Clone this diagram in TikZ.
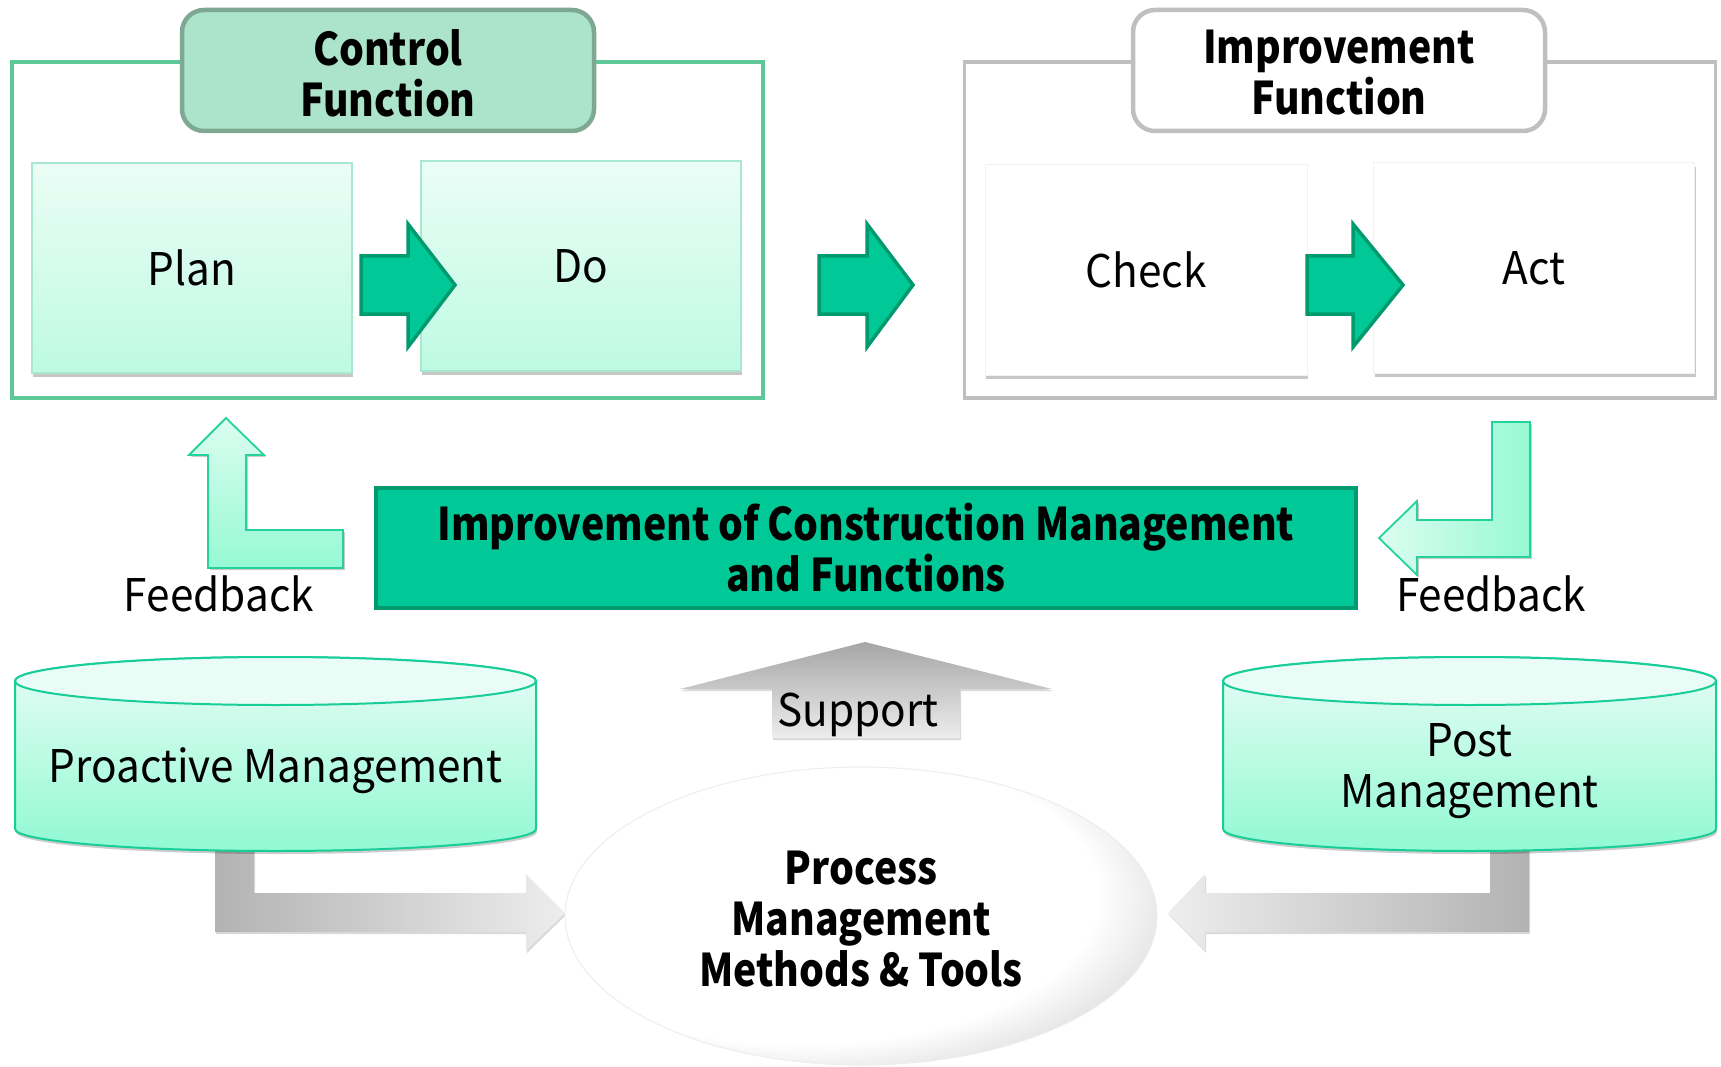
\documentclass[tikz,border=0pt]{standalone}
\usepackage{fontspec}
\setmainfont{Noto Sans CJK KR}[FakeStretch=0.94]
\newfontfamily\bfam{Noto Sans CJK KR}[FakeStretch=0.87]
\usetikzlibrary{shadows}
\definecolor{frameG}{HTML}{5DC999}
\definecolor{headG}{HTML}{ACE3CB}
\definecolor{headGB}{HTML}{7FA893}
\definecolor{frameGray}{HTML}{BFBFBF}
\definecolor{pdTop}{HTML}{EBFDF6}
\definecolor{pdBot}{HTML}{BEFAE3}
\definecolor{pdBorder}{HTML}{A8E8CE}
\definecolor{arrowG}{HTML}{00C896}
\definecolor{arrowGB}{HTML}{009A6E}
\definecolor{fbTop}{HTML}{DCFDF0}
\definecolor{fbBot}{HTML}{96F9D4}
\definecolor{fbBorder}{HTML}{25D29E}
\definecolor{cylTop}{HTML}{E9FDF6}
\definecolor{cylBot}{HTML}{90F9D3}
\definecolor{cylB}{HTML}{18CD97}
\pgfdeclareradialshading{ellshade}{\pgfpoint{-10bp}{7bp}}{color(0bp)=(white); color(25bp)=(white); color(36bp)=(black!22); color(50bp)=(black!22)}
\tikzset{
  txt/.style={font=\fontsize{45}{51}\selectfont, inner sep=0pt, align=center, text=black},
  btxt/.style={txt, font=\fontsize{45}{51}\selectfont\bfam\bfseries},
  frm/.style={line width=3.5pt, minimum width=751pt, minimum height=336pt, inner sep=0pt},
  hdr/.style={btxt, rounded corners=22pt, line width=4.5pt, minimum width=412pt, minimum height=121pt},
  pdbox/.style={txt, top color=pdTop, bottom color=pdBot, draw=pdBorder, line width=1.5pt,
     minimum width=320pt, minimum height=210pt,
     drop shadow={shadow xshift=1pt, shadow yshift=-4pt, opacity=0.22, fill=black}},
  cabox/.style={txt, fill=white, draw=black!5, line width=1pt,
     minimum width=321pt, minimum height=210pt,
     drop shadow={shadow xshift=1pt, shadow yshift=-4pt, opacity=0.22, fill=black}},
  barrow/.style={fill=arrowG, draw=arrowGB, line width=3.5pt, line join=miter},
  fbarrow/.style={draw=fbBorder, line width=1.8pt,
     drop shadow={shadow xshift=2pt, shadow yshift=-2pt, opacity=0.2, fill=black}},
  cylbody/.style={top color=cylTop, bottom color=cylBot, draw=cylB, line width=2pt,
     drop shadow={shadow xshift=1pt, shadow yshift=-3pt, opacity=0.2, fill=black}},
  cyltop/.style={fill=cylTop, draw=cylB, line width=2pt},
  garrow/.style={draw=none,
     drop shadow={shadow xshift=1pt, shadow yshift=-2pt, opacity=0.15, fill=black}},
}
\begin{document}
\begin{tikzpicture}[x=1pt,y=-1pt]
\useasboundingbox (0,0) rectangle (1721,1067);

% ---- frames and headers
\node[frm, draw=frameG] (cframe) at (387.5,230) {};
\node[hdr, fill=headG, draw=headGB] (chead) at (388,70.5) {};
\node[btxt] (cheadtxt) at (388,73) {Control\\Function};
\node[frm, draw=frameGray] (iframe) at (1340,230) {};
\node[hdr, fill=white, draw=frameGray] (ihead) at (1339,70.5) {};
\node[btxt] (iheadtxt) at (1339,73) {Improvement\\Function};

% ---- PDCA boxes
\node[pdbox] (plan) at (192,268) {Plan};
\node[pdbox] (do) at (581,266) {Do};
\node[cabox, minimum width=322pt] (check) at (1146,270) {Check};
\node[cabox] (act) at (1534,268) {Act};

% ---- green block arrows
\draw[barrow] (361,256) -- (408,256) -- (408,224) -- (455,285) -- (408,347) -- (408,314) -- (361,314) -- cycle;
\draw[barrow] (819,256) -- (867,256) -- (867,224) -- (913,285) -- (867,347) -- (867,314) -- (819,314) -- cycle;
\draw[barrow] (1307,256) -- (1353,256) -- (1353,224) -- (1403,285) -- (1353,347) -- (1353,314) -- (1307,314) -- cycle;

% ---- feedback arrows
\path[fbarrow, top color=fbTop, bottom color=fbBot]
  (226,418) -- (264,455) -- (246,455) -- (246,530) -- (343,530) -- (343,568)
  -- (208,568) -- (208,455) -- (189,455) -- cycle;
\path[fbarrow, left color=fbTop, right color=fbBot]
  (1379,538) -- (1417,501) -- (1417,520) -- (1492,520) -- (1492,422) -- (1530,422)
  -- (1530,557) -- (1417,557) -- (1417,575) -- cycle;
\node[txt] (fbl) at (219,594) {Feedback};
\node[txt] (fbr) at (1491,594) {Feedback};

% ---- banner
\node[btxt, fill=arrowG, draw=arrowGB, line width=4.5pt, minimum width=980pt, minimum height=120pt]
  (banner) at (866,548) {Improvement of Construction Management\\and Functions};

% ---- gray L arrows into the ellipse
\path[garrow, left color=black!30, right color=black!7]
  (215,835) -- (254,835) -- (254,893) -- (526,893) -- (526,874) -- (565,913)
  -- (526,951) -- (526,932) -- (215,932) -- cycle;
\path[garrow, left color=black!7, right color=black!30]
  (1529,835) -- (1490,835) -- (1490,893) -- (1205,893) -- (1205,874) -- (1168,913)
  -- (1205,951) -- (1205,932) -- (1529,932) -- cycle;

% ---- cylinders
\path[cylbody] (15,681) -- (15,829) arc[start angle=180, end angle=0, x radius=260.5, y radius=22]
  -- (536,681) arc[start angle=0, end angle=-180, x radius=260.5, y radius=24] -- cycle;
\path[cyltop] (275.5,681) ellipse[x radius=260.5, y radius=24];
\node[txt] (proactive) at (275.5,771) {Proactive Management};

\path[cylbody] (1223,681) -- (1223,829) arc[start angle=180, end angle=0, x radius=246.5, y radius=22]
  -- (1716,681) arc[start angle=0, end angle=-180, x radius=246.5, y radius=24] -- cycle;
\path[cyltop] (1469.5,681) ellipse[x radius=246.5, y radius=24];
\node[txt] (post) at (1469.5,771) {Post\\Management};

% ---- support arrow
\path[garrow, top color=black!35, bottom color=black!7]
  (865,642) -- (1052,689) -- (960,689) -- (960,738) -- (772,738) -- (772,689) -- (680,689) -- cycle;
\node[txt] (support) at (858,715) {Support};

% ---- ellipse
\path[shading=ellshade, draw=black!7, line width=1pt] (861,916) ellipse[x radius=296, y radius=149];
\node[btxt] (pm) at (861,919) {Process\\Management\\Methods \& Tools};
\end{tikzpicture}
\end{document}
